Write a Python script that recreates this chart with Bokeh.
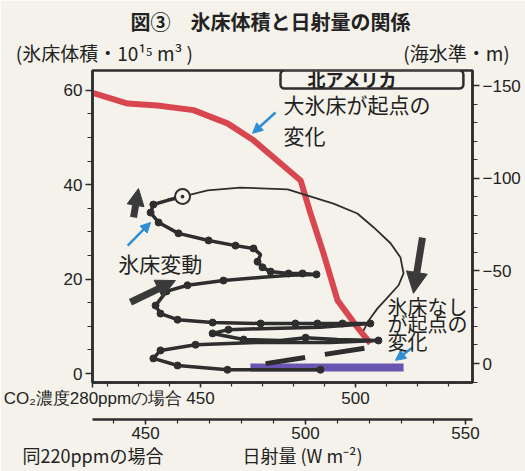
from bokeh.plotting import figure
from bokeh.models import (Range1d, LinearAxis, FixedTicker, Label, Arrow,
                          NormalHead, BoxAnnotation, ColumnDataSource)
from bokeh.embed import file_html
from bokeh.resources import INLINE

# ---------------- data (x: insolation W m-2 at CO2 280ppm, y: ice volume 10^15 m3)
red_x = [415.5, 426.5, 436.1, 447.7, 458.7, 467.1, 482.3, 485.5, 489.7, 494.2, 500.6, 504.8]
red_y = [59.4, 57.2, 56.8, 55.8, 53.0, 49.4, 40.9, 33.9, 25.4, 15.5, 9.8, 6.4]

path_x = [444.2, 439.4, 434.8, 433.9, 436.5, 442.9, 452.6, 461.3, 467.1, 469.4, 468.4, 470.0,
          472.6, 478.4, 482.9, 487.4, 479.0, 470.0, 457.4, 445.8, 439.0, 435.5, 437.1, 442.6,
          453.9, 469.4, 480.6, 487.7, 495.8, 504.8, 488.7, 469.4, 459.0, 453.9, 463.9, 475.8,
          483.9, 494.2, 507.4, 491.9, 469.4, 448.4, 437.1, 434.8, 442.6, 458.7, 488.7]
path_y = [37.5, 36.7, 35.8, 34.1, 32.0, 29.7, 28.2, 27.1, 26.5, 25.2, 23.7, 22.5,
          21.6, 21.2, 21.2, 21.0, 20.8, 20.4, 19.7, 18.7, 17.4, 14.4, 12.7, 11.4,
          10.8, 10.6, 10.6, 10.6, 10.6, 10.6, 9.8, 9.5, 9.3, 8.5, 7.2, 7.0,
          7.6, 7.2, 7.0, 6.6, 6.6, 6.1, 4.9, 3.2, 1.7, 0.8, 0.8]
path_dot = [0, 0, 1, 1, 1, 1, 1, 1, 1, 0, 1, 1,
            1, 1, 1, 1, 0, 0, 1, 1, 1, 1, 1, 1,
            1, 1, 1, 1, 1, 1, 0, 0, 1, 1, 1, 0,
            1, 0, 1, 0, 0, 1, 1, 1, 1, 1, 1]

thin_x = [444.2, 452.3, 462.9, 478.1, 492.9, 500.6, 505.8, 511.3, 514.5, 515.5, 513.9,
          510.3, 507.1, 504.2, 502.6]
thin_y = [37.5, 38.8, 39.4, 39.0, 36.0, 33.9, 31.0, 27.6, 24.6, 21.2, 18.7,
          16.1, 13.8, 11.2, 9.1]

start_x = [444.2]
start_y = [37.5]

purple_x = [466.1, 515.5]
purple_y = [1.3, 1.3]

dash_x = [471.0, 504.2]
dash_y = [2.1, 5.5]

vol_ticks = [0, 20, 40, 60]
sea_ticks = [-150, -100, -50, 0]
x280_ticks = [450, 500]
x220_ticks = [450, 500, 550]

TITLE = "図③　氷床体積と日射量の関係"
VOL_UNIT = "(氷床体積・10¹⁵ m³ )"
SEA_UNIT = "(海水準・m)"
CO2_280 = "CO₂濃度280ppmの場合"
CO2_220 = "同220ppmの場合"
XLABEL = "日射量 (W m⁻²)"

BG = "#f4f2ea"
INK = "#2e2e2e"
JP = "Noto Sans CJK JP"
LAT = "Liberation Sans"

p = figure(width=525, height=471, output_backend="svg", toolbar_location=None,
           x_range=Range1d(415.16, 537.74), y_range=Range1d(-1.9, 64.2),
           min_border_left=92, min_border_right=53, min_border_top=70,
           min_border_bottom=89)
p.background_fill_color = BG
p.border_fill_color = BG
p.outline_line_color = INK
p.outline_line_width = 2.5
p.xgrid.visible = False
p.ygrid.visible = False

def style_axis(ax, major, minor):
    ax.ticker = FixedTicker(ticks=major, minor_ticks=minor)
    ax.axis_line_color = INK
    ax.axis_line_width = 2.5
    ax.major_tick_line_color = INK
    ax.minor_tick_line_color = INK
    ax.major_tick_line_width = 1.5
    ax.minor_tick_line_width = 1.2
    ax.major_tick_in = 0
    ax.minor_tick_in = 0
    ax.major_tick_out = 7
    ax.minor_tick_out = 5
    ax.major_label_text_font = LAT
    ax.major_label_text_font_size = "17px"
    ax.major_label_text_color = "#222222"
    ax.major_label_standoff = 3

def text_axis(ax, ticks, labels, size, style="normal", standoff=0):
    ax.ticker = FixedTicker(ticks=ticks, minor_ticks=[])
    ax.major_label_overrides = dict(zip(ticks, labels))
    ax.axis_line_color = None
    ax.major_tick_line_color = None
    ax.minor_tick_line_color = None
    ax.major_tick_in = 0
    ax.major_tick_out = 0
    ax.minor_tick_in = 0
    ax.minor_tick_out = 0
    ax.major_label_text_font = JP
    ax.major_label_text_font_size = size
    ax.major_label_text_font_style = style
    ax.major_label_text_color = "#222222"
    ax.major_label_standoff = standoff

# left axis
style_axis(p.yaxis[0], vol_ticks, list(range(0, 61, 5)))

# right axis (sea level)
p.extra_y_ranges = {"sea": Range1d(10.25, -158.1)}
ra = LinearAxis(y_range_name="sea")
style_axis(ra, sea_ticks, list(range(-150, 11, 10)))
p.add_layout(ra, "right")

# bottom axis 1 (CO2 280ppm) with its caption at the left end
xa = p.xaxis[0]
style_axis(xa, [415.3] + x280_ticks, list(range(420, 540, 10)))
xa.major_label_overrides = {415.3: CO2_280}
xa.major_tick_out = 5
xa.minor_tick_out = 4
xa.major_label_standoff = 1
xa.axis_label = " "
xa.axis_label_text_font_size = "4px"
xa.axis_label_standoff = 1

# bottom axis 2 (CO2 220ppm)
p.extra_x_ranges = {"x220": Range1d(433.4, 552.2)}
xb = LinearAxis(x_range_name="x220")
style_axis(xb, x220_ticks, list(range(440, 553, 10)))
xb.major_tick_out = 5
xb.minor_tick_out = 4
xb.major_label_standoff = 2
p.add_layout(xb, "below")

# bottom caption row
xc = LinearAxis()
text_axis(xc, [415.3, 482.9], [CO2_220, XLABEL], "18px", standoff=0)
p.add_layout(xc, "below")

# top rows: units, then title
ua = LinearAxis()
text_axis(ua, [419.0, 532.6], [VOL_UNIT, SEA_UNIT], "19px", standoff=5)
p.add_layout(ua, "above")
ta = LinearAxis()
text_axis(ta, [472.6], [TITLE], "20px", style="bold", standoff=0)
p.add_layout(ta, "above")

# box "北アメリカ"
p.add_layout(BoxAnnotation(left=475.8, right=534.8, bottom=60.4, top=64.2,
                           fill_color=BG, fill_alpha=1, line_color=INK,
                           line_alpha=1, line_width=2.5, border_radius=4))
p.add_layout(Label(x=499.0, y=62.3, text="北アメリカ", text_font=JP,
                   text_font_size="18px", text_font_style="bold",
                   text_align="center", text_baseline="middle", text_color="#222222"))

# marks
p.line(red_x, red_y, line_color="#d8464f", line_width=6)
p.line(purple_x, purple_y, line_color="#6a56b0", line_width=8)
p.line(thin_x, thin_y, line_color=INK, line_width=1.8)
p.line(path_x, path_y, line_color=INK, line_width=3.5)
dots = ColumnDataSource(dict(
    x=[x for x, d in zip(path_x, path_dot) if d],
    y=[y for y, d in zip(path_y, path_dot) if d]))
p.scatter("x", "y", source=dots, size=7, color=INK)
p.scatter(start_x, start_y, marker="circle_dot", size=15, fill_color=BG,
          line_color=INK, line_width=2)
p.line(dash_x, dash_y, line_color=INK, line_width=5, line_dash="40 20")

# arrows
def arrow(x0, y0, x1, y1, color, lw, hs):
    p.add_layout(Arrow(end=NormalHead(size=hs, fill_color=color, line_color=color),
                       x_start=x0, y_start=y0, x_end=x1, y_end=y1,
                       line_color=color, line_width=lw))

BLUE = "#2f8fd6"
arrow(474.2, 55.3, 466.8, 50.9, BLUE, 2.5, 10)
arrow(426.5, 27.1, 433.9, 32.0, BLUE, 2.5, 10)
arrow(518.4, 5.5, 512.9, 2.8, BLUE, 2.5, 10)
DARK = "#3a3a3a"
arrow(428.4, 33.1, 430.0, 39.2, DARK, 7, 17)
arrow(427.4, 15.1, 441.9, 19.7, DARK, 7, 19)
arrow(521.6, 28.8, 518.7, 17.0, DARK, 7, 21)

def lab(x, y, t, size):
    p.add_layout(Label(x=x, y=y, text=t, text_font=JP, text_font_size=size,
                       text_align="left", text_baseline="middle",
                       text_color="#222222"))

lab(476.8, 57.2, "大氷床が起点の", "21px")
lab(476.8, 50.5, "変化", "21px")
lab(423.5, 23.5, "氷床変動", "21px")
lab(510.3, 14.3, "氷床なし", "20px")
lab(510.3, 10.5, "が起点の", "20px")
lab(510.3, 6.7, "変化", "20px")

open("out.html", "w").write(file_html(p, INLINE))
